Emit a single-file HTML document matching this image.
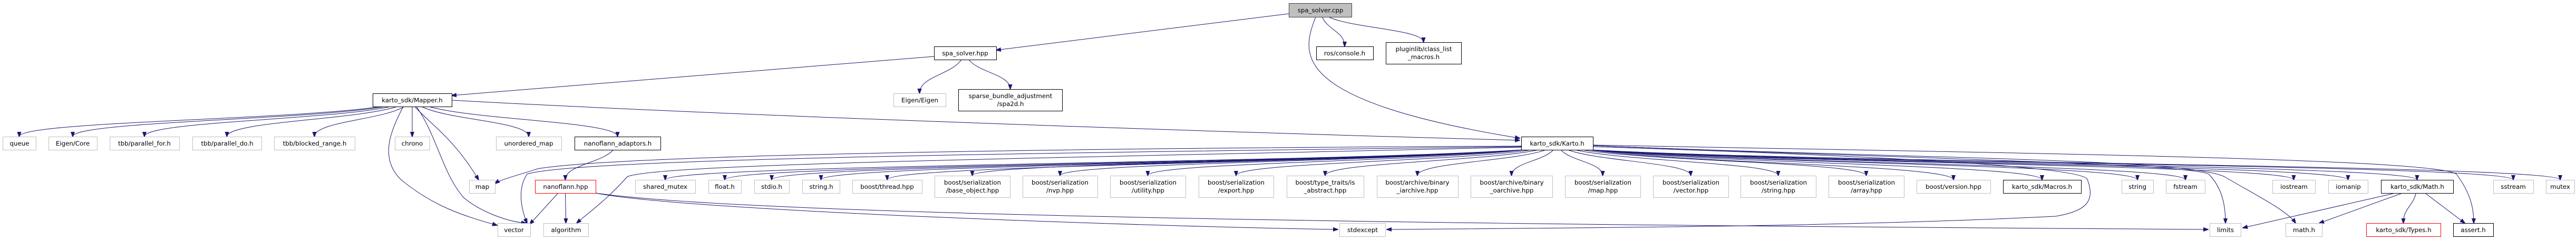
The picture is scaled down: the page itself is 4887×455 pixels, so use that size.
<!DOCTYPE html>
<html><head><meta charset="utf-8"><style>
html,body{margin:0;padding:0;background:#fff;}
svg{display:block;}
text{font-family:"DejaVu Sans","Liberation Sans",sans-serif;font-size:11.8px;fill:#000;text-anchor:middle;}
.g{fill:#fff;stroke:#bfbfbf;stroke-width:1;}
.b{fill:#fff;stroke:#000;stroke-width:1;}
.r{fill:#fff;stroke:#ff0000;stroke-width:1;}
.e{fill:none;stroke:#191970;stroke-width:1;}
</style></head><body>
<svg id="s" width="4887" height="455" viewBox="0 0 4887 455" xmlns="http://www.w3.org/2000/svg">
<defs><marker id="a" viewBox="0 0 10 10" refX="9" refY="5" markerWidth="10" markerHeight="10" markerUnits="userSpaceOnUse" orient="auto"><path d="M0,1.5 L10,5 L0,8.5 z" fill="#191970" stroke="#191970"/></marker></defs>
<g id="edges"></g>
<g id="nodes">
<rect x="2445.5" y="6.5" width="119" height="26" fill="#bfbfbf" stroke="#404040"/><text x="2505" y="23.5">spa_solver.cpp</text>
<rect class="b" x="1772.5" y="88.5" width="118" height="25"/><text x="1831" y="105">spa_solver.hpp</text>
<rect class="b" x="2497.5" y="88.5" width="108" height="25"/><text x="2551" y="105">ros/console.h</text>
<rect class="b" x="2629.5" y="80.5" width="143" height="41"/><text x="2701" y="97">pluginlib/class_list</text><text x="2701" y="112">_macros.h</text>
<rect class="b" x="707.5" y="177.5" width="150" height="25"/><text x="782" y="194">karto_sdk/Mapper.h</text>
<rect class="g" x="1695.5" y="177.5" width="99" height="25"/><text x="1745" y="194">Eigen/Eigen</text>
<rect class="b" x="1818.5" y="169.5" width="197" height="41"/><text x="1917" y="186">sparse_bundle_adjustment</text><text x="1917" y="201">/spa2d.h</text>
<rect class="g" x="5.5" y="259.5" width="63" height="25"/><text x="37" y="276">queue</text>
<rect class="g" x="92.5" y="259.5" width="92" height="25"/><text x="138" y="276">Eigen/Core</text>
<rect class="g" x="208.5" y="259.5" width="132" height="25"/><text x="274" y="276">tbb/parallel_for.h</text>
<rect class="g" x="365.5" y="259.5" width="131" height="25"/><text x="431" y="276">tbb/parallel_do.h</text>
<rect class="g" x="520.5" y="259.5" width="153" height="25"/><text x="597" y="276">tbb/blocked_range.h</text>
<rect class="g" x="749.5" y="259.5" width="66" height="25"/><text x="782" y="276">chrono</text>
<rect class="g" x="941.5" y="259.5" width="124" height="25"/><text x="1003" y="276">unordered_map</text>
<rect class="b" x="1090.5" y="259.5" width="163" height="25"/><text x="1172" y="276">nanoflann_adaptors.h</text>
<rect class="b" x="2886.5" y="259.5" width="136" height="25"/><text x="2954" y="276">karto_sdk/Karto.h</text>
<rect class="g" x="890.5" y="341.5" width="49" height="25"/><text x="915" y="358">map</text>
<rect class="r" x="1015.5" y="341.5" width="115" height="25"/><text x="1073" y="358">nanoflann.hpp</text>
<rect class="g" x="1205.5" y="341.5" width="114" height="25"/><text x="1262" y="358">shared_mutex</text>
<rect class="g" x="1344.5" y="341.5" width="62" height="25"/><text x="1375" y="358">float.h</text>
<rect class="g" x="1431.5" y="341.5" width="66" height="25"/><text x="1464" y="358">stdio.h</text>
<rect class="g" x="1522.5" y="341.5" width="71" height="25"/><text x="1558" y="358">string.h</text>
<rect class="g" x="1617.5" y="341.5" width="132" height="25"/><text x="1683" y="358">boost/thread.hpp</text>
<rect class="g" x="1773.5" y="333.5" width="143" height="41"/><text x="1845" y="350">boost/serialization</text><text x="1845" y="365">/base_object.hpp</text>
<rect class="g" x="1940.5" y="333.5" width="142" height="41"/><text x="2011" y="350">boost/serialization</text><text x="2011" y="365">/nvp.hpp</text>
<rect class="g" x="2106.5" y="333.5" width="143" height="41"/><text x="2178" y="350">boost/serialization</text><text x="2178" y="365">/utility.hpp</text>
<rect class="g" x="2274.5" y="333.5" width="142" height="41"/><text x="2345" y="350">boost/serialization</text><text x="2345" y="365">/export.hpp</text>
<rect class="g" x="2441.5" y="333.5" width="146" height="41"/><text x="2514" y="350">boost/type_traits/is</text><text x="2514" y="365">_abstract.hpp</text>
<rect class="g" x="2612.5" y="333.5" width="154" height="41"/><text x="2689" y="350">boost/archive/binary</text><text x="2689" y="365">_iarchive.hpp</text>
<rect class="g" x="2790.5" y="333.5" width="155" height="41"/><text x="2868" y="350">boost/archive/binary</text><text x="2868" y="365">_oarchive.hpp</text>
<rect class="g" x="2969.5" y="333.5" width="143" height="41"/><text x="3041" y="350">boost/serialization</text><text x="3041" y="365">/map.hpp</text>
<rect class="g" x="3136.5" y="333.5" width="143" height="41"/><text x="3208" y="350">boost/serialization</text><text x="3208" y="365">/vector.hpp</text>
<rect class="g" x="3302.5" y="333.5" width="143" height="41"/><text x="3374" y="350">boost/serialization</text><text x="3374" y="365">/string.hpp</text>
<rect class="g" x="3469.5" y="333.5" width="143" height="41"/><text x="3541" y="350">boost/serialization</text><text x="3541" y="365">/array.hpp</text>
<rect class="g" x="3636.5" y="341.5" width="140" height="25"/><text x="3706" y="358">boost/version.hpp</text>
<rect class="b" x="3800.5" y="341.5" width="148" height="25"/><text x="3874" y="358">karto_sdk/Macros.h</text>
<rect class="g" x="4025.5" y="341.5" width="60" height="25"/><text x="4055" y="358">string</text>
<rect class="g" x="4109.5" y="341.5" width="74" height="25"/><text x="4146" y="358">fstream</text>
<rect class="g" x="4311.5" y="341.5" width="81" height="25"/><text x="4352" y="358">iostream</text>
<rect class="g" x="4417.5" y="341.5" width="75" height="25"/><text x="4455" y="358">iomanip</text>
<rect class="b" x="4517.5" y="341.5" width="137" height="25"/><text x="4586" y="358">karto_sdk/Math.h</text>
<rect class="g" x="4730.5" y="341.5" width="76" height="25"/><text x="4768" y="358">sstream</text>
<rect class="g" x="4830.5" y="341.5" width="54" height="25"/><text x="4857" y="358">mutex</text>
<rect class="g" x="944.5" y="423.5" width="62" height="25"/><text x="975" y="440">vector</text>
<rect class="g" x="1031.5" y="423.5" width="85" height="25"/><text x="1074" y="440">algorithm</text>
<rect class="g" x="2541.5" y="423.5" width="87" height="25"/><text x="2585" y="440">stdexcept</text>
<rect class="g" x="4192.5" y="423.5" width="59" height="25"/><text x="4222" y="440">limits</text>
<rect class="g" x="4336.5" y="423.5" width="69" height="25"/><text x="4371" y="440">math.h</text>
<rect class="r" x="4489.5" y="423.5" width="141" height="25"/><text x="4560" y="440">karto_sdk/Types.h</text>
<rect class="b" x="4654.5" y="423.5" width="76" height="25"/><text x="4692" y="440">assert.h</text>
</g>
</svg>
<script>
var N={cpp:[2445,6,119,26],hpp:[1772,88,118,25],con:[2497,88,108,25],plug:[2629,80,143,41],
mapper:[707,177,150,25],eig:[1695,177,99,25],sba:[1818,169,197,41],
queue:[5,259,63,25],ecore:[92,259,92,25],pfor:[208,259,132,25],pdo:[365,259,131,25],br:[520,259,153,25],
chrono:[749,259,66,25],umap:[941,259,124,25],nfa:[1090,259,163,25],karto:[2886,259,136,25],
map:[890,341,49,25],nf:[1015,341,115,25],smx:[1205,341,114,25],flt:[1344,341,62,25],stdio:[1431,341,66,25],
strh:[1522,341,71,25],thr:[1617,341,132,25],bo:[1773,333,143,41],nvp:[1940,333,142,41],ut:[2106,333,143,41],
ex:[2274,333,142,41],ab:[2441,333,146,41],ia:[2612,333,154,41],oa:[2790,333,155,41],smap:[2969,333,143,41],
svec:[3136,333,143,41],sstr:[3302,333,143,41],sarr:[3469,333,143,41],ver:[3636,341,140,25],mac:[3800,341,148,25],
str:[4025,341,60,25],fst:[4109,341,74,25],ios:[4311,341,81,25],iom:[4417,341,75,25],math:[4517,341,137,25],
sst:[4730,341,76,25],mtx:[4830,341,54,25],vec:[944,423,62,25],alg:[1031,423,85,25],sexc:[2541,423,87,25],
lim:[4192,423,59,25],mh:[4336,423,69,25],typ:[4489,423,141,25],asr:[4654,423,76,25]};
var P=[];
function std(s,t){var a=N[s],b=N[t];var sc=a[0]+a[2]/2,tc=b[0]+b[2]/2;
 var sx=sc+Math.max(-a[2]/2+4,Math.min(a[2]/2-4,(tc-sc)*0.08));var sy=a[1]+a[3];var ty=b[1];
 var dy=ty-sy;P.push('M'+sx+','+sy+' C'+(sx+(tc-sx)*0.25)+','+(sy+dy*0.45)+' '+tc+','+(ty-dy*0.5)+' '+tc+','+ty);}
function raw(d){P.push(d);}
raw('M2445,26 L1890,95');
std('cpp','con');std('cpp','plug');
raw('M2496,32 C2470,100 2440,190 2883,262');
raw('M1772,107 L857,181');
std('hpp','eig');std('hpp','sba');
['queue','ecore','pfor','pdo','br','chrono','umap','nfa'].forEach(function(t){std('mapper',t);});
raw('M787,202 C810,230 860,260 908,341');
raw('M765,202 C740,250 720,300 760,340 C820,390 880,410 943,427');
raw('M790,202 C830,260 840,330 880,375 C910,400 960,420 998,423');
raw('M857,190 C1400,220 2300,250 2883,266');
std('nfa','nf');
raw('M1058,367 L1005,425');std('nf','alg');
raw('M1130,366 C1300,400 2200,430 2538,435');
raw('M1130,366 C1500,420 3500,430 4189,435');
['smx','flt','stdio','strh','thr','bo','nvp','ut','ex','ab','ia','oa','smap','svec','sstr','sarr','ver','mac','str','fst','ios','iom','math','sst','mtx'].forEach(function(t){std('karto',t);});
raw('M2886,277 C2200,280 1200,290 1020,320 C990,330 950,340 939,348');
raw('M2886,278 C2000,290 1100,300 1000,330 C980,360 990,400 1000,423');
raw('M2886,279 C2000,300 1250,310 1190,335 C1150,380 1120,400 1094,423');
raw('M3022,276 C3600,300 4150,310 4190,330 C4220,360 4222,400 4222,423');
raw('M3022,276 C3600,300 4150,300 4220,335 C4280,370 4340,400 4355,423');
raw('M3022,275 C3800,290 4620,300 4660,330 C4690,370 4693,400 4693,423');
raw('M3022,278 C3700,300 3950,320 3960,340 C3975,380 3960,400 3900,410 C3500,430 3000,432 2631,435');
std('math','typ');
raw('M4540,367 L4255,432');raw('M4555,367 L4400,423');raw('M4602,367 L4676,423');
var g=document.getElementById('edges'),h='';
P.forEach(function(d){h+='<path class="e" marker-end="url(#a)" d="'+d+'"/>';});
g.innerHTML=h;
</script>
</body></html>
